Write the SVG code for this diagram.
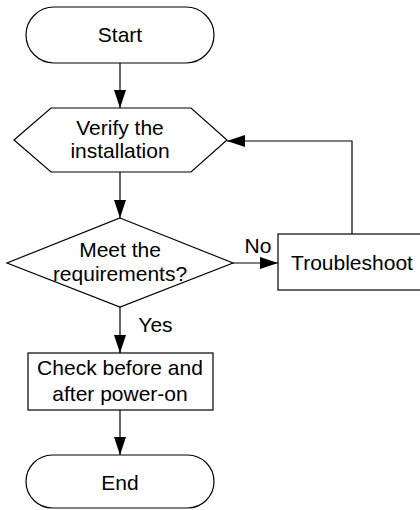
<svg xmlns="http://www.w3.org/2000/svg" width="420" height="510" viewBox="0 0 420 510">
<style>
.s{fill:#fff;stroke:#000;stroke-width:1.2}
.t{font-family:"Liberation Sans",Arial,sans-serif;font-size:21px;fill:#000;text-anchor:middle}
.c{fill:none;stroke:#000;stroke-width:1.2}
</style>
<defs>
<marker id="a" markerUnits="userSpaceOnUse" markerWidth="18" markerHeight="12" refX="18" refY="6" orient="auto">
<path d="M0,0 L18,6 L0,12 Z" fill="#000"/>
</marker>
</defs>
<rect width="420" height="510" fill="#fff"/>
<g id="connectors">
<line class="c" x1="120" y1="63" x2="120" y2="108" marker-end="url(#a)"/>
<line class="c" x1="120" y1="172" x2="120" y2="218" marker-end="url(#a)"/>
<line class="c" x1="120" y1="307" x2="120" y2="353" marker-end="url(#a)"/>
<line class="c" x1="120" y1="410" x2="120" y2="455" marker-end="url(#a)"/>
<line class="c" x1="233" y1="263" x2="278" y2="263" marker-end="url(#a)"/>
<polyline class="c" points="352,234 352,141 227,141" marker-end="url(#a)"/>
<text class="t" x="258" y="252.5">No</text>
<text class="t" x="155.5" y="331.5">Yes</text>
</g>
<g id="start">
<rect class="s" x="26" y="7" width="188" height="56" rx="28"/>
<text class="t" x="120" y="42">Start</text>
</g>
<g id="verify">
<polygon class="s" points="14,140 51,108 191,108 227,140 191,172 51,172"/>
<text class="t" x="120" y="135">Verify the</text>
<text class="t" x="120" y="158">installation</text>
</g>
<g id="decision">
<polygon class="s" points="120,218 233,263 120,307 7,263"/>
<text class="t" x="120" y="256.5">Meet the</text>
<text class="t" x="120" y="280.5">requirements?</text>
</g>
<g id="troubleshoot">
<rect class="s" x="278" y="234" width="148" height="56"/>
<text class="t" x="352" y="270">Troubleshoot</text>
</g>
<g id="check">
<rect class="s" x="28" y="353" width="185" height="57"/>
<text class="t" x="120" y="375">Check before and</text>
<text class="t" x="120" y="400.5">after power-on</text>
</g>
<g id="end">
<rect class="s" x="26" y="455" width="188" height="53" rx="26.5"/>
<text class="t" x="120" y="490">End</text>
</g>
</svg>
